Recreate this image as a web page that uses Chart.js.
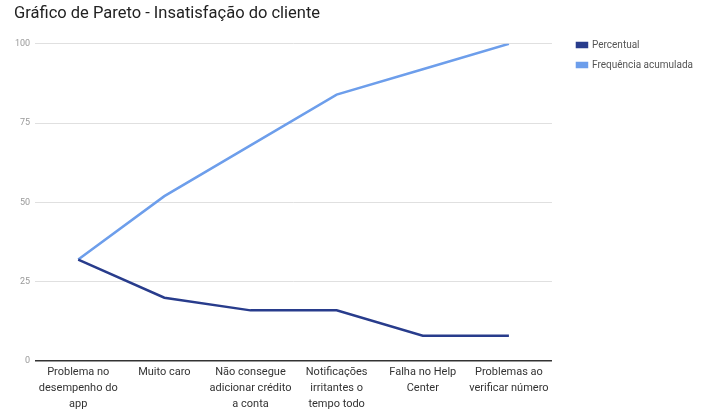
<!DOCTYPE html>
<html>
<head>
<meta charset="utf-8">
<script src="https://cdn.jsdelivr.net/npm/chart.js@4"></script>
<style>
  html, body { margin: 0; padding: 0; background: #fff; }
  #wrap { width: 703px; height: 412px; }
</style>
</head>
<body>
<div id="wrap"><canvas id="chart" width="703" height="412"></canvas></div>
<script>
// Categories and series
const categories = [
    ["Problema no", "desempenho do", "app"],
    ["Muito caro"],
    ["Não consegue", "adicionar crédito", "a conta"],
    ["Notificações", "irritantes o", "tempo todo"],
    ["Falha no Help", "Center"],
    ["Problemas ao", "verificar número"]
];
const percentual = [32, 20, 16, 16, 8, 8];
const acumulada = [32, 52, 68, 84, 92, 100];
const yTicks = [0, 25, 50, 75, 100];

// nudge legend and title into the spots they take in the original
const boxNudge = {
    id: "boxNudge",
    afterLayout(chart) {
        const lg = chart.legend;
        if (lg) {
            lg.left += 15;
            lg.right += 15;
            lg.top += 26;
            lg.bottom += 26;
        }
        const tb = chart.titleBlock;
        if (tb) {
            tb.left += 4;
            tb.right += 4;
        }
    }
};

const ctx = document.getElementById("chart");
new Chart(ctx, {
    type: "line",
    data: {
        labels: categories,
        datasets: [
            {
                label: "Percentual",
                data: percentual,
                borderColor: "#283c8c",
                backgroundColor: "#283c8c",
                borderWidth: 2.5,
                pointRadius: 0,
                tension: 0
            },
            {
                label: "Frequência acumulada",
                data: acumulada,
                borderColor: "#6d9eeb",
                backgroundColor: "#6d9eeb",
                borderWidth: 2.5,
                pointRadius: 0,
                tension: 0
            }
        ]
    },
    plugins: [boxNudge],
    options: {
        responsive: false,
        animation: false,
        layout: { padding: { left: 10, right: 15, top: 4, bottom: -3 } },
        plugins: {
            title: {
                display: true,
                text: "Gráfico de Pareto - Insatisfação do cliente",
                align: "start",
                color: "#222",
                font: { family: "Roboto", size: 16.5, weight: "normal" },
                padding: { top: 0, bottom: 20 }
            },
            legend: {
                position: "right",
                align: "start",
                labels: {
                    boxWidth: 10,
                    boxHeight: 4,
                    padding: 10,
                    color: "#555",
                    font: { family: "Roboto", size: 10 }
                }
            },
            tooltip: { enabled: false }
        },
        scales: {
            x: {
                offset: true,
                grid: { display: false, drawTicks: false },
                border: { display: false },
                ticks: {
                    autoSkip: false,
                    maxRotation: 0,
                    color: "#333",
                    font: { family: "Roboto", size: 11, lineHeight: 1.45 },
                    padding: 3
                }
            },
            y: {
                min: 0,
                max: 100,
                afterBuildTicks: axis => { axis.ticks = yTicks.map(v => ({ value: v })); },
                grid: {
                    color: c => (c.tick && c.tick.value === 0 ? "#333" : "#e0e0e0"),
                    lineWidth: c => (c.tick && c.tick.value === 0 ? 1.5 : 1),
                    drawTicks: false
                },
                border: { display: false },
                ticks: {
                    color: "#999",
                    font: { family: "Roboto", size: 9 },
                    padding: 5
                }
            }
        }
    }
});
</script>
</body>
</html>
